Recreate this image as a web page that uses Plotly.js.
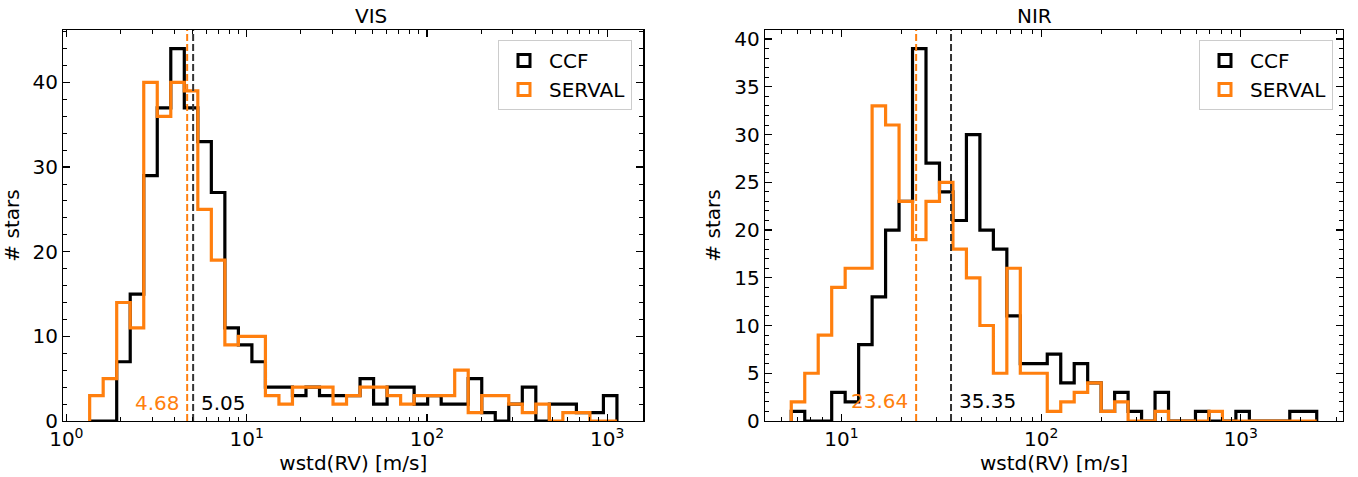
<!DOCTYPE html>
<html><head><meta charset="utf-8">
<script src="https://cdn.plot.ly/plotly-3.0.1.min.js"></script>
<style>html,body{margin:0;padding:0;background:#fff}#chart{width:1358px;height:477px}</style>
</head><body><div id="chart"></div>
<script>
// ---- data ----
const panelTitles = ['VIS', 'NIR'];
const seriesNames = ['CCF', 'SERVAL'];
const visBinLo = 1.347, visBinHi = 1133, visNBins = 39;
const nirBinLo = 5.6, nirBinHi = 2400, nirNBins = 39;
const visCCF    = [0,0,7,15,29,37,44,37,33,27, 11,9,7,4,4,3,4,3,3,3, 5,2,4,4,2,3,2,2,5,1, 0,2,4,0,2,2,1,1,3];
const visSERVAL = [3,5,14,11,40,36,40,39,25,19, 9,10,10,3,2,4,4,4,2,3, 4,4,3,2,3,3,3,6,1,3, 3,2,1,2,0,1,1,0,0];
const nirCCF    = [1,0,0,3,2,8,13,20,23,39, 27,24,21,30,20,18,11,6,6,7, 4,6,4,1,3,1,0,3,0,0, 1,0,0,1,0,0,0,1,1];
const nirSERVAL = [2,5,9,14,16,16,33,31,23,19, 23,25,18,15,10,5,16,5,5,1, 2,3,4,1,2,0,0,1,0,0, 0,1,0,0,0,0,0,0,0];
const visMedianCCF = 5.05, visMedianSERVAL = 4.68;
const nirMedianCCF = 35.35, nirMedianSERVAL = 23.64;
const xTickVals = [1, 10, 100, 1000];
const xTickText = ['10<sup>0</sup>', '10<sup>1</sup>', '10<sup>2</sup>', '10<sup>3</sup>'];
const xLabel = 'wstd(RV) [m/s]';
const yLabel = '# stars';

// ---- helpers ----
const W = 1358, H = 477;
const FONT = 'DejaVu Sans, Liberation Sans, sans-serif';
const colCCF = '#000000', colSERVAL = '#ff7f0e';

function logEdges(lo, hi, n) {
  const a = Math.log10(lo), b = Math.log10(hi), e = [];
  for (let i = 0; i <= n; i++) e.push(Math.pow(10, a + (b - a) * i / n));
  return e;
}
function stepTrace(edges, counts, color, xa, ya) {
  const x = [edges[0]], y = [0];
  for (let i = 0; i < counts.length; i++) { x.push(edges[i]); y.push(counts[i]); }
  x.push(edges[counts.length]); y.push(counts[counts.length - 1]);
  x.push(edges[counts.length]); y.push(0);
  return {type: 'scatter', mode: 'lines', x, y, xaxis: xa, yaxis: ya,
          line: {color, width: 3.2, shape: 'hv'}, showlegend: false, hoverinfo: 'skip'};
}
function vline(v, ymax, color, xa, ya) {
  return {type: 'scatter', mode: 'lines', x: [v, v], y: [0, ymax], xaxis: xa, yaxis: ya,
          line: {color, width: 2, dash: '7px,3px'}, showlegend: false, hoverinfo: 'skip'};
}
function legendTrace(name, color, legend, xa, ya) {
  return {type: 'bar', x: [null], y: [null], name, legend, xaxis: xa, yaxis: ya,
          marker: {color: 'rgba(255,255,255,0)', line: {color, width: 3}}};
}
function minorLogTicks(lo, hi) {
  const v = [];
  for (let d = lo; d <= hi; d++) for (let m = 2; m <= 9; m++) v.push(m * Math.pow(10, d));
  return v;
}

const visEdges = logEdges(visBinLo, visBinHi, visNBins);
const nirEdges = logEdges(nirBinLo, nirBinHi, nirNBins);
function logRange(lo, hi) {
  const a = Math.log10(lo), b = Math.log10(hi), m = 0.05 * (b - a);
  return [a - m, b + m];
}
const visYMax = Math.max(...visCCF, ...visSERVAL) * 1.05;
const nirYMax = Math.max(...nirCCF, ...nirSERVAL) * 1.05;

const traces = [
  legendTrace(seriesNames[0], colCCF, 'legend', 'x', 'y'),
  legendTrace(seriesNames[1], colSERVAL, 'legend', 'x', 'y'),
  legendTrace(seriesNames[0], colCCF, 'legend2', 'x2', 'y2'),
  legendTrace(seriesNames[1], colSERVAL, 'legend2', 'x2', 'y2'),
  stepTrace(visEdges, visCCF, colCCF, 'x', 'y'),
  stepTrace(visEdges, visSERVAL, colSERVAL, 'x', 'y'),
  vline(visMedianCCF, visYMax, '#333333', 'x', 'y'),
  vline(visMedianSERVAL, visYMax, colSERVAL, 'x', 'y'),
  stepTrace(nirEdges, nirCCF, colCCF, 'x2', 'y2'),
  stepTrace(nirEdges, nirSERVAL, colSERVAL, 'x2', 'y2'),
  vline(nirMedianCCF, nirYMax, '#333333', 'x2', 'y2'),
  vline(nirMedianSERVAL, nirYMax, colSERVAL, 'x2', 'y2')
];

const tickFont = {family: FONT, size: 20, color: '#000'};
function xAxis(domain, range, anchor, minorVals) {
  return {domain, range, type: 'log', anchor, showline: true, linecolor: '#000', linewidth: 1.3,
    mirror: 'ticks', ticks: 'inside', ticklen: 7, tickwidth: 1.3, tickcolor: '#000',
    tickmode: 'array', tickvals: xTickVals, ticktext: xTickText, tickfont: tickFont,
    minor: {ticks: 'inside', ticklen: 4, tickwidth: 1, tickcolor: '#000', tickmode: 'array', tickvals: minorVals},
    showgrid: false, zeroline: false, automargin: false,
    title: {text: xLabel, font: tickFont, standoff: 5}};
}
function yAxis(domain, range, anchor, dtick, minorDtick) {
  return {domain, range, anchor, showline: true, linecolor: '#000', linewidth: 1.3,
    mirror: 'ticks', ticks: 'inside', ticklen: 7, tickwidth: 1.3, tickcolor: '#000',
    dtick, tick0: 0, tickfont: tickFont,
    minor: {ticks: 'inside', ticklen: 4, tickwidth: 1, tickcolor: '#000', dtick: minorDtick, tick0: 0},
    showgrid: false, zeroline: false, automargin: false,
    title: {text: yLabel, font: tickFont, standoff: 8}};
}
const yDom = [1 - 421 / H, 1 - 30 / H];
const xDom1 = [63.3 / W, 643.3 / W];
const xDom2 = [765 / W, 1343 / W];

const legendStyle = {bgcolor: 'rgba(255,255,255,0.8)', bordercolor: '#cccccc', borderwidth: 1,
  font: {family: FONT, size: 20, color: '#000'}, yanchor: 'top', xanchor: 'right',
  tracegroupgap: 0, traceorder: 'normal', itemwidth: 40};

const txt = (text, x, xref, yref, color, xanchor, xshift) => ({
  text, x: Math.log10(x), y: 2, xref, yref, showarrow: false, xanchor, yanchor: 'middle',
  xshift, yshift: 1, font: {family: FONT, size: 20, color}});

const layout = {
  width: W, height: H, margin: {l: 0, r: 0, t: 0, b: 0},
  paper_bgcolor: '#fff', plot_bgcolor: '#fff', showlegend: true, barmode: 'overlay',
  xaxis: xAxis(xDom1, logRange(visBinLo, visBinHi), 'y', minorLogTicks(0, 3)),
  yaxis: yAxis(yDom, [0, visYMax], 'x', 10, 2),
  xaxis2: xAxis(xDom2, logRange(nirBinLo, nirBinHi), 'y2', minorLogTicks(0, 3)),
  yaxis2: yAxis(yDom, [0, nirYMax], 'x2', 5, 1),
  legend: Object.assign({x: 632 / W, y: 1 - 40 / H}, legendStyle),
  legend2: Object.assign({x: 1333 / W, y: 1 - 40 / H}, legendStyle),
  annotations: [
    {text: panelTitles[0], x: (xDom1[0] + xDom1[1]) / 2, y: 1 - 16 / H, xref: 'paper', yref: 'paper',
     showarrow: false, font: {family: FONT, size: 20, color: '#000'}, yanchor: 'middle'},
    {text: panelTitles[1], x: (xDom2[0] + xDom2[1]) / 2, y: 1 - 16 / H, xref: 'paper', yref: 'paper',
     showarrow: false, font: {family: FONT, size: 20, color: '#000'}, yanchor: 'middle'},
    txt(visMedianSERVAL.toFixed(2), visMedianSERVAL, 'x', 'y', colSERVAL, 'right', -5),
    txt(visMedianCCF.toFixed(2), visMedianCCF, 'x', 'y', '#000', 'left', 6),
    txt(nirMedianSERVAL.toFixed(2), nirMedianSERVAL, 'x2', 'y2', colSERVAL, 'right', -6),
    txt(nirMedianCCF.toFixed(2), nirMedianCCF, 'x2', 'y2', '#000', 'left', 6)
  ]
};
Plotly.newPlot('chart', traces, layout, {staticPlot: true});
</script></body></html>
